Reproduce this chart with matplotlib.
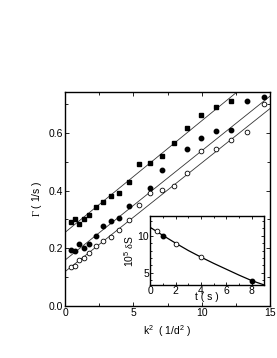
import matplotlib
matplotlib.use("Agg")
import matplotlib.pyplot as plt
from matplotlib.ticker import MultipleLocator

plt.rcParams["font.family"] = ["Liberation Sans", "DejaVu Sans"]
plt.rcParams["font.size"] = 7.5
plt.rcParams["mathtext.fontset"] = "custom"
plt.rcParams["mathtext.rm"] = "Liberation Sans"
plt.rcParams["mathtext.it"] = "Liberation Sans:italic"
plt.rcParams["mathtext.tt"] = "Liberation Serif"

# main panel: decay rate vs k^2
k2_sq = [0.44, 0.73, 1.02, 1.37, 1.78, 2.27, 2.76, 3.34, 3.97, 4.68, 5.44, 6.2,
         7.06, 7.97, 8.93, 9.96, 11.05, 12.17]
gamma_sq = [0.290, 0.303, 0.285, 0.302, 0.317, 0.342, 0.360, 0.383, 0.393, 0.431,
            0.492, 0.497, 0.519, 0.565, 0.617, 0.663, 0.689, 0.709]

k2_fc = [0.44, 0.73, 1.02, 1.37, 1.78, 2.27, 2.76, 3.34, 3.97, 4.68, 6.2, 7.06,
         8.93, 9.96, 11.05, 12.17, 13.34, 14.57]
gamma_fc = [0.195, 0.191, 0.215, 0.200, 0.216, 0.242, 0.277, 0.294, 0.306, 0.346,
            0.408, 0.471, 0.543, 0.583, 0.607, 0.611, 0.712, 0.725]

k2_oc = [0.44, 0.73, 1.02, 1.37, 1.78, 2.27, 2.76, 3.34, 3.97, 4.68, 5.44, 6.2,
         7.06, 7.97, 8.93, 9.96, 11.05, 12.17, 13.34, 14.57]
gamma_oc = [0.135, 0.140, 0.160, 0.167, 0.185, 0.207, 0.224, 0.240, 0.265, 0.298,
            0.351, 0.392, 0.402, 0.417, 0.461, 0.537, 0.545, 0.575, 0.604, 0.700]

# linear fits (intercept, slope)
fit_sq = (0.255, 0.0387)
fit_fc = (0.159, 0.0379)
fit_oc = (0.119, 0.0377)

# inset: delta S vs t
t_open = [0.5, 2, 4]
ds_open = [10.7, 8.9, 7.05]
t_fill = [1, 8]
ds_fill = [9.95, 3.87]
t_curve = [0, 1, 2, 3, 4, 5, 6, 7, 8, 9]
ds_curve = [11.15, 10.05, 9.0, 8.0, 7.1, 6.25, 5.45, 4.65, 3.9, 3.3]

fig = plt.figure(figsize=(2.77, 3.58), dpi=100)
ax = fig.add_axes([0.2347, 0.1453, 0.7401, 0.5986])

for b, m in (fit_sq, fit_fc, fit_oc):
    ax.axline((0, b), slope=m, color="#333333", lw=0.6, zorder=1)

ax.plot(k2_sq, gamma_sq, "s", color="black", ms=2.8, zorder=3)
ax.plot(k2_fc, gamma_fc, "o", color="black", ms=3.2, zorder=3)
ax.plot(k2_oc, gamma_oc, "o", mfc="white", mec="black", mew=0.6, ms=3.4, zorder=3)

ax.set_xlim(0, 15)
ax.set_ylim(0, 0.743)
ax.xaxis.set_major_locator(MultipleLocator(5))
ax.xaxis.set_minor_locator(MultipleLocator(2.5))
ax.yaxis.set_major_locator(MultipleLocator(0.2))
ax.yaxis.set_minor_locator(MultipleLocator(0.1))
ax.set_yticks([0.0, 0.2, 0.4, 0.6])
ax.set_yticklabels(["0.0", "0.2", "0.4", "0.6"])
ax.tick_params(which="both", direction="in", top=True, right=True, pad=1.5)
ax.tick_params(which="major", length=3, width=0.6)
ax.tick_params(which="minor", length=2, width=0.6)
for s in ax.spines.values():
    s.set_linewidth(1.0)
ax.set_xlabel(r"k$^2$  ( 1/d$^2$ )", labelpad=4)
ax.set_ylabel(r"$\mathtt{\Gamma}$ ( 1/s )", labelpad=3)

ins = fig.add_axes([0.5426, 0.2039, 0.4116, 0.1927])
ins.plot(t_curve, ds_curve, color="black", lw=0.9, zorder=2)
ins.plot(t_open, ds_open, "o", mfc="white", mec="black", mew=0.6, ms=3.4, zorder=3)
ins.plot(t_fill, ds_fill, "o", color="black", ms=3.2, zorder=3)
ins.set_xlim(0, 9)
ins.set_ylim(3.3, 12.7)
ins.xaxis.set_major_locator(MultipleLocator(2))
ins.xaxis.set_minor_locator(MultipleLocator(1))
ins.yaxis.set_major_locator(MultipleLocator(5))
ins.yaxis.set_minor_locator(MultipleLocator(1))
ins.tick_params(which="both", direction="in", top=True, right=True, pad=1)
ins.tick_params(which="major", length=2.5, width=0.6)
ins.tick_params(which="minor", length=1.5, width=0.6)
for s in ins.spines.values():
    s.set_linewidth(1.0)
ins.set_xlabel("t ( s )", labelpad=-3)
ins.set_ylabel(r"10$^5$ $\mathtt{\delta}$S", labelpad=1)

fig.savefig("out.png", dpi=100)
